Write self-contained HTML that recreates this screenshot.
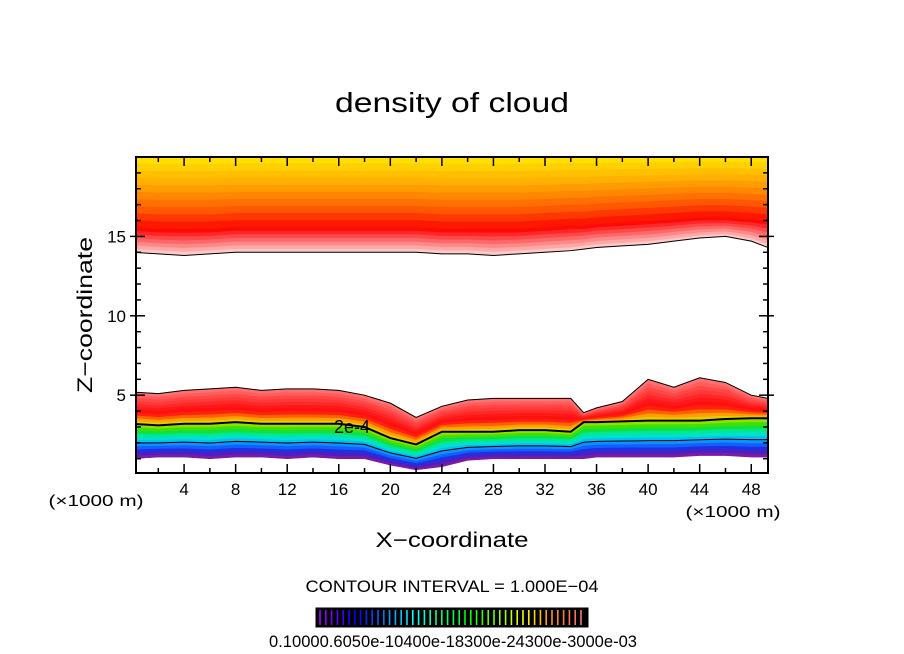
<!DOCTYPE html>
<html><head><meta charset="utf-8"><style>
html,body{margin:0;padding:0;background:#fff;}
svg{display:block;font-family:"Liberation Sans",sans-serif;}
</style></head><body>
<svg id="chart" width="904" height="654" viewBox="0 0 904 654" xmlns="http://www.w3.org/2000/svg">
<rect x="0" y="0" width="904" height="654" fill="#fff"/>
<text x="452" y="112" text-anchor="middle" font-size="28" textLength="234" lengthAdjust="spacingAndGlyphs">density of cloud</text>
<g id="field"></g>
<g id="axes"></g>
<text x="452" y="547" text-anchor="middle" font-size="21" textLength="153" lengthAdjust="spacingAndGlyphs">X−coordinate</text>
<text transform="translate(92,315) rotate(-90)" text-anchor="middle" font-size="21" textLength="156" lengthAdjust="spacingAndGlyphs">Z−coordinate</text>
<text x="96" y="506" text-anchor="middle" font-size="16" textLength="95" lengthAdjust="spacingAndGlyphs">(×1000 m)</text>
<text x="733" y="517" text-anchor="middle" font-size="16" textLength="95" lengthAdjust="spacingAndGlyphs">(×1000 m)</text>
<text x="452" y="592" text-anchor="middle" font-size="17" textLength="293" lengthAdjust="spacingAndGlyphs">CONTOUR INTERVAL = 1.000E−04</text>
<g id="cbar"></g>
<text x="453" y="647" text-anchor="middle" font-size="17" textLength="368" lengthAdjust="spacingAndGlyphs">0.10000.6050e-10400e-18300e-24300e-3000e-03</text>
</svg>
<script>
// data (x in 1000 m, z in 1000 m)
const xs        = [0, 2, 4, 6, 8, 10, 12, 14, 16, 18, 20, 22, 24, 26, 28, 30, 32, 34, 35, 36, 38, 40, 42, 44, 46, 48, 49.3];
const lowTop    = [5.2,5.1,5.3,5.4,5.5,5.3,5.4,5.4,5.3,5.0,4.5,3.6,4.3,4.7,4.8,4.8,4.8,4.8,3.9,4.2,4.6,6.0,5.5,6.1,5.8,5.0,4.8];
const contour   = [3.2,3.1,3.2,3.2,3.3,3.2,3.2,3.2,3.2,3.0,2.3,1.9,2.7,2.7,2.7,2.8,2.8,2.7,3.3,3.3,3.35,3.4,3.4,3.4,3.5,3.55,3.55];
const lowBottom = [1.0,1.1,1.1,1.0,1.1,1.1,1.0,1.1,1.0,1.0,0.6,0.3,0.5,0.9,1.0,1.0,1.0,1.0,1.0,1.1,1.1,1.1,1.1,1.2,1.2,1.1,1.1];
const upperBase = [14.0,13.9,13.8,13.9,14.0,14.0,14.0,14.0,14.0,14.0,14.0,14.0,13.9,13.9,13.8,13.9,14.0,14.1,14.2,14.3,14.4,14.5,14.7,14.9,15.0,14.7,14.3];
const upperPeak = [15.6,15.5,15.5,15.5,15.6,15.6,15.6,15.6,15.6,15.6,15.6,15.6,15.5,15.5,15.5,15.5,15.6,15.7,15.7,15.8,15.9,16.0,16.1,16.2,16.2,16.1,16.0];
const xTicks = [4,8,12,16,20,24,28,32,36,40,44,48];
const yTicks = [5,10,15];

const NS="http://www.w3.org/2000/svg";
const L=136,R=768,T=157,B=473;
const X0=0.27,X1=49.3,Z0=0.1,Z1=20.0;
const sx=x=>L+(x-X0)/(X1-X0)*(R-L);
const sz=z=>B-(z-Z0)/(Z1-Z0)*(B-T);
function mk(tag,attrs,parent){const e=document.createElementNS(NS,tag);for(const k in attrs)e.setAttribute(k,attrs[k]);parent.appendChild(e);return e;}
const field=document.getElementById('field');
const clip=mk('clipPath',{id:'pc'},field);mk('rect',{x:L,y:T,width:R-L,height:B-T},clip);
const fg=mk('g',{'clip-path':'url(#pc)'},field);
function band(a,b,fa,fb,color,name){
  const top=xs.map((x,i)=>[sx(x),sz(a[i]+(b[i]-a[i])*fb)]);
  const bot=xs.map((x,i)=>[sx(x),sz(a[i]+(b[i]-a[i])*fa)]).reverse();
  const p=mk('polygon',{points:top.concat(bot).map(p=>p.join(',')).join(' '),fill:color,stroke:color,'stroke-width':0.6},fg);
  
  
}
const lowCols=['#7a1aa8','#4a20c0','#2030e0','#1060ff','#1090ff','#00c0f0','#00e0d0','#00e890','#10e040','#40e000','#90e000'];
lowCols.forEach((c,i)=>band(lowBottom,contour,i/lowCols.length,(i+1)/lowCols.length,c,'lower-band'));
const midCols=['#e8d000','#ffa000','#ff6000','#ff2010','#ff1010','#ff1818','#ff2828','#ff3838','#ff4848','#ff5c5c','#ff7070'];
midCols.forEach((c,i)=>band(contour,lowTop,i/midCols.length,(i+1)/midCols.length,c,'lower-upper-band'));
const topZ=xs.map(()=>20.5);
const upCols1=['#ffc8c8','#ffa8a8','#ff8888','#ff6868','#ff4848','#ff2828','#ff0808'];
upCols1.forEach((c,i)=>band(upperBase,upperPeak,i/upCols1.length,(i+1)/upCols1.length,c,'upper-band'));
const upCols2=['#ff1800','#ff3800','#ff5800','#ff7000','#ff8800','#ff9c00','#ffb000','#ffc000','#ffd000','#ffe000','#fff000'];
upCols2.forEach((c,i)=>band(upperPeak,topZ,i/upCols2.length,(i+1)/upCols2.length,c,'upper-band'));
function line(arr,w,name){
  const pl=mk('polyline',{points:xs.map((x,i)=>sx(x)+','+sz(arr[i])).join(' '),fill:'none',stroke:'#000','stroke-width':w},fg);
  
  
}
line(lowTop,1,'contour-1e-4-top');
line(contour,2,'contour-2e-4');
line(lowBottom.map((v,i)=>v+(contour[i]-v)*0.45),1,'contour-cyan');
line(upperBase,1,'contour-upper-base');
const lbl=mk('text',{x:352,y:433,'text-anchor':'middle','font-size':18,fill:'#000',stroke:'#ff2020','stroke-width':0},fg);lbl.textContent='2e-4';


const ax=document.getElementById('axes');
mk('rect',{x:L,y:T,width:R-L,height:B-T,fill:'none',stroke:'#000','stroke-width':2},ax);
for(let x=2;x<=48;x+=2){
  const maj=x%4===0,px=sx(x);
  mk('line',{x1:px,x2:px,y1:B,y2:B-(maj?9:5),stroke:'#000','stroke-width':1.5},ax);
  mk('line',{x1:px,x2:px,y1:T,y2:T+(maj?9:5),stroke:'#000','stroke-width':1.5},ax);
}
xTicks.forEach(x=>{const t=mk('text',{x:sx(x),y:495,'text-anchor':'middle','font-size':17},ax);t.textContent=x;

});
for(let z=1;z<=19;z++){
  const maj=z%5===0,py=sz(z);
  mk('line',{x1:L-(maj?6:0),x2:L+(maj?9:5),y1:py,y2:py,stroke:'#000','stroke-width':1.5},ax);
  mk('line',{x1:R+(maj?6:0),x2:R-(maj?9:5),y1:py,y2:py,stroke:'#000','stroke-width':1.5},ax);
}
yTicks.forEach(z=>{const t=mk('text',{x:L-10,y:sz(z)+6,'text-anchor':'end','font-size':17},ax);t.textContent=z;

});
const cb=document.getElementById('cbar');
mk('rect',{x:316,y:608,width:272,height:19,fill:'#000',stroke:'#000'},cb);
const n=46;
for(let i=0;i<n;i++){
  const f=i/(n-1);
  let h=280-f*280; let l=f>0.85?50+(f-0.85)*150:50;
  const c='hsl('+h.toFixed(0)+',100%,'+l.toFixed(0)+'%)';
  const px=320+i*5.8;
  mk('line',{x1:px,x2:px,y1:610,y2:625,stroke:c,'stroke-width':1.6},cb);
}
</script>
</body></html>
